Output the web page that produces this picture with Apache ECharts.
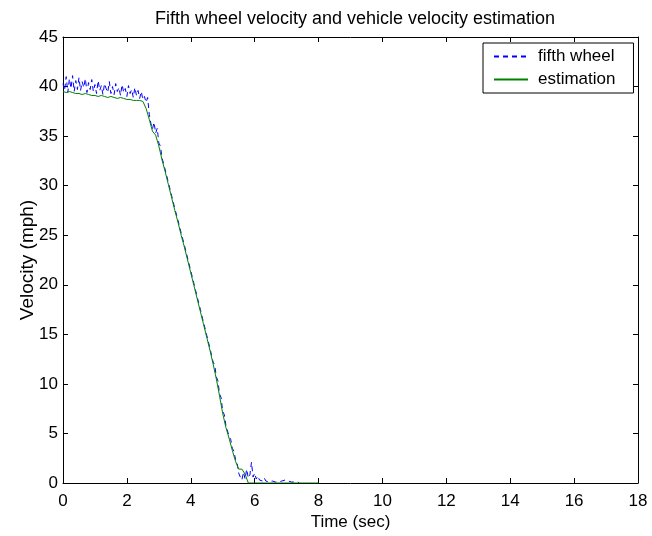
<!DOCTYPE html>
<html>
<head>
<meta charset="utf-8">
<script src="https://cdn.jsdelivr.net/npm/echarts@6/dist/echarts.min.js"></script>
<style>html,body{margin:0;padding:0;background:#fff}#c{width:652px;height:536px}</style>
</head>
<body>
<div id="c"></div>
<script>
// ---- data ----
const titleText = 'Fifth wheel velocity and vehicle velocity estimation';
const xName = 'Time (sec)';
const yName = 'Velocity (mph)';
const seriesNames = ['fifth wheel', 'estimation'];
const xTicks = [0, 2, 4, 6, 8, 10, 12, 14, 16, 18];
const yTicks = [0, 5, 10, 15, 20, 25, 30, 35, 40, 45];

// fifth wheel: sampled every 0.05 s from t = 0
const fifthStart = 0, fifthStep = 0.05;
const fifthWheel = [
  40.3,39.6,41.0,39.4,40.8,39.8,41.1,39.5,40.6,39.7,
  40.9,39.6,40.5,39.9,40.8,39.4,40.4,39.7,40.7,39.5,
  40.2,39.3,40.6,39.6,40.1,39.2,40.3,39.8,39.4,40.5,
  39.3,40.0,39.2,40.3,39.5,39.9,39.1,40.2,39.4,39.8,
  39.0,40.1,39.3,39.7,38.9,39.9,39.1,39.6,38.8,39.5,38.7,
  39.0,38.4,38.9,37.2,36.3,35.7,36.4,35.3,35.8,34.3,
  34.0,32.8,32.9,31.6,31.4,30.3,30.1,29.0,28.9,27.7,
  27.6,26.5,26.4,25.2,25.1,24.0,23.9,22.7,22.6,21.4,
  21.2,20.1,20.0,18.8,18.7,17.5,17.4,16.2,16.1,14.9,
  14.8,13.6,13.4,12.2,11.9,10.7,10.3,9.0,8.6,7.2,
  6.9,5.8,5.6,4.7,4.4,3.5,3.2,2.4,2.0,1.0,
  0.6,0.3,1.1,0.4,1.4,0.5,0.8,2.1,0.6,1.0,
  0.4,0.7,0.3,0.5,0.2,0.5,0.2,0.4,0.1,0.3,
  0.2,0.4,0.1,0.2,0.1,0.1,0.2,0.3,0.3,0.3,
  0.2,0.2,0.1,0.1,0.1,0.0,0.1,0.0
];

// estimation: sampled every 0.1 s from t = 0
const estStart = 0, estStep = 0.1;
const estimation = [
  39.5,39.4,39.5,39.4,39.3,39.3,39.2,39.3,39.2,39.1,
  39.1,39.0,39.1,39.0,38.9,39.0,38.9,38.8,38.9,38.8,
  38.7,38.7,38.6,38.6,38.6,38.5,
  37.8,36.7,35.5,35.1,34.0,32.6,31.4,30.1,28.8,27.5,
  26.3,25.0,23.8,22.5,21.2,19.9,18.6,17.3,16.0,14.7,
  13.4,12.0,10.5,8.8,7.0,5.6,4.5,3.3,2.2,1.4,1.4,0.9,
  0,0,0,0,0,0,0,0,0,0,0,0,0,0,0,0,0,0,0,0,0,0,0
];

function pairs(start, step, vals) {
  return vals.map((v, i) => [+(start + i * step).toFixed(3), v]);
}

const FONT = '"Liberation Sans", Arial, Helvetica, sans-serif';
const chart = echarts.init(document.getElementById('c'), null, {renderer: 'canvas'});

function xAxisBase(extra) {
  return Object.assign({
    type: 'value', min: xTicks[0], max: xTicks[xTicks.length - 1], interval: xTicks[1] - xTicks[0],
    axisLine: {show: true, onZero: false, lineStyle: {color: '#000', width: 1}},
    axisTick: {show: true, inside: true, length: 5, lineStyle: {color: '#000'}},
    splitLine: {show: false}
  }, extra);
}
function yAxisBase(extra) {
  return Object.assign({
    type: 'value', min: yTicks[0], max: yTicks[yTicks.length - 1], interval: yTicks[1] - yTicks[0],
    axisLine: {show: true, onZero: false, lineStyle: {color: '#000', width: 1}},
    axisTick: {show: true, inside: true, length: 5, lineStyle: {color: '#000'}},
    splitLine: {show: false}
  }, extra);
}

chart.setOption({
  animation: false,
  backgroundColor: '#fff',
  textStyle: {fontFamily: FONT},
  title: {
    text: titleText, left: 350, top: 5, textAlign: 'center',
    textStyle: {fontSize: 18, fontWeight: 'normal', color: '#000', fontFamily: FONT}
  },
  grid: {left: 63, right: 14, top: 37, bottom: 47, containLabel: false},
  legend: {
    data: seriesNames, orient: 'vertical', left: 483, top: 43,
    itemWidth: 34, itemHeight: 14, itemGap: 6,
    padding: [5, 18, 5, 10],
    borderColor: '#000', borderWidth: 1, backgroundColor: '#fff',
    itemStyle: {color: 'rgba(0,0,0,0)', borderWidth: 0, opacity: 0},
    textStyle: {fontSize: 17, color: '#000', fontFamily: FONT, padding: [0, 0, 0, 5]}
  },
  xAxis: [
    xAxisBase({
      position: 'bottom',
      axisLabel: {show: true, color: '#000', fontSize: 17, margin: 10, fontFamily: FONT},
      name: xName, nameLocation: 'middle', nameGap: 31, nameMoveOverlap: false,
      nameTextStyle: {fontSize: 17, color: '#000', fontFamily: FONT}
    }),
    xAxisBase({position: 'top', axisLabel: {show: false}})
  ],
  yAxis: [
    yAxisBase({
      position: 'left',
      axisLabel: {show: true, color: '#000', fontSize: 17, margin: 5, fontFamily: FONT},
      name: yName, nameLocation: 'middle', nameGap: 26, nameMoveOverlap: false,
      nameTextStyle: {fontSize: 19, color: '#000', fontFamily: FONT}
    }),
    yAxisBase({position: 'right', axisLabel: {show: false}})
  ],
  series: [
    {
      name: seriesNames[0], type: 'line', xAxisIndex: 0, yAxisIndex: 0,
      data: pairs(fifthStart, fifthStep, fifthWheel),
      symbol: 'none', showSymbol: false,
      lineStyle: {color: '#0000ff', width: 1, type: [5, 4]},
      itemStyle: {color: '#0000ff'}
    },
    {
      name: seriesNames[1], type: 'line', xAxisIndex: 0, yAxisIndex: 0,
      data: pairs(estStart, estStep, estimation),
      symbol: 'none', showSymbol: false,
      lineStyle: {color: '#008000', width: 1, type: 'solid'},
      itemStyle: {color: '#008000'}
    }
  ]
});
</script>
</body>
</html>
